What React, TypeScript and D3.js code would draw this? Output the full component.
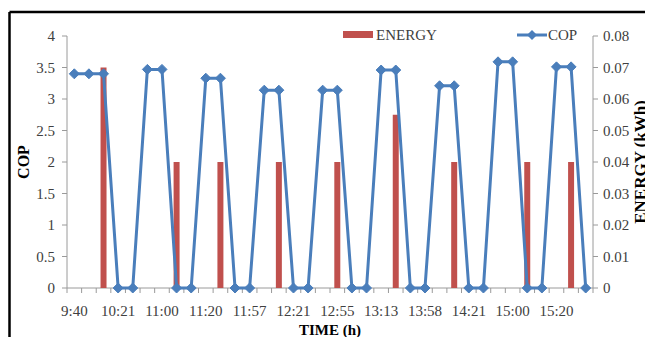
import React from "react";
import * as d3 from "d3";

const tickLabels = ["9:40", "10:21", "11:00", "11:20", "11:57", "12:21", "12:55", "13:13", "13:58", "14:21", "15:00", "15:20"];
const cop = [
  3.4, 3.4, 3.4, 0, 0, 3.47, 3.47, 0, 0, 3.33, 3.33, 0, 0, 3.14, 3.14, 0, 0, 3.14,
  3.14, 0, 0, 3.46, 3.46, 0, 0, 3.21, 3.21, 0, 0, 3.59, 3.59, 0, 0, 3.51, 3.51, 0,
];
const energy = [
  0, 0, 0.07, 0, 0, 0, 0, 0.04, 0, 0, 0.04, 0, 0, 0, 0.04, 0, 0, 0,
  0.04, 0, 0, 0, 0.055, 0, 0, 0, 0.04, 0, 0, 0, 0, 0.04, 0, 0, 0.04, 0,
];
const leftTicks = [0, 0.5, 1, 1.5, 2, 2.5, 3, 3.5, 4];
const rightTicks = [0, 0.01, 0.02, 0.03, 0.04, 0.05, 0.06, 0.07, 0.08];

const W = 645;
const H = 337;
const L = 67;
const R = 593;
const T = 36;
const B = 288;
const BLUE = "#4A7EBB";
const RED = "#C0504D";
const FONT = "'Liberation Serif', 'Times New Roman', serif";
const TXT = "#404040";
const AX = "#9A9A9A";

export default function App() {
  const cats = d3.range(cop.length);
  const x = d3.scaleBand<number>().domain(cats).range([L, R]).padding(0);
  const bw = x.bandwidth();
  const cx = (i: number) => (x(i) as number) + bw / 2;
  const yL = d3.scaleLinear().domain([0, 4]).range([B, T]);
  const yR = d3.scaleLinear().domain([0, 0.08]).range([B, T]);
  const barW = bw * 0.41;

  const line = d3
    .line<number>()
    .x((_, i) => cx(i))
    .y((d) => yL(d));

  const diamond = (px: number, py: number, r: number) =>
    `M${px},${py - r}L${px + r},${py}L${px},${py + r}L${px - r},${py}Z`;

  return (
    <svg
      width={W}
      height={H}
      style={{ position: "fixed", left: 0, top: 0, background: "#fff" }}
      fontFamily={FONT}
    >
      <rect x={0} y={0} width={W} height={H} fill="#fff" />
      {/* frame */}
      <line x1={9.5} x2={W} y1={12} y2={12} stroke="#000" strokeWidth={2.5} />
      <line x1={9.5} x2={9.5} y1={12} y2={H} stroke="#000" strokeWidth={2.5} />

      {/* axes */}
      <line x1={L} x2={L} y1={T} y2={B} stroke={AX} strokeWidth={1} />
      <line x1={R} x2={R} y1={T} y2={B} stroke={AX} strokeWidth={1} />
      <line x1={L} x2={R} y1={B} y2={B} stroke={AX} strokeWidth={1} />
      {leftTicks.map((t) => (
        <g key={"l" + t}>
          <line x1={L - 5} x2={L} y1={yL(t)} y2={yL(t)} stroke={AX} />
          <text x={55} y={yL(t) + 5} textAnchor="end" fontSize={15} fill={TXT}>
            {d3.format("~g")(t)}
          </text>
        </g>
      ))}
      {rightTicks.map((t) => (
        <g key={"r" + t}>
          <line x1={R} x2={R + 5} y1={yR(t)} y2={yR(t)} stroke={AX} />
          <text x={603} y={yR(t) + 5} textAnchor="start" fontSize={15} fill={TXT}>
            {d3.format("~g")(t)}
          </text>
        </g>
      ))}
      {d3.range(cats.length + 1).map((i) => {
        const px = L + i * bw;
        return <line key={"xt" + i} x1={px} x2={px} y1={B} y2={B + 5} stroke={AX} />;
      })}
      {tickLabels.map((lab, k) => (
        <text key={"xl" + k} x={cx(k * 3)} y={316} textAnchor="middle" fontSize={15} fill={TXT}>
          {lab}
        </text>
      ))}

      {/* bars */}
      {energy.map((v, i) =>
        v > 0 ? (
          <rect key={"b" + i} x={cx(i) - barW / 2} y={yR(v)} width={barW} height={B - yR(v)} fill={RED} />
        ) : null
      )}

      {/* COP line */}
      <path d={line(cop) || ""} fill="none" stroke={BLUE} strokeWidth={3} strokeLinejoin="round" />
      {cop.map((v, i) => (
        <path key={"m" + i} d={diamond(cx(i), yL(v), 5)} fill={BLUE} stroke={BLUE} strokeWidth={1} />
      ))}

      {/* legend */}
      <rect x={343} y={31} width={30} height={7} fill={RED} />
      <text x={376} y={40} fontSize={15} fill={TXT}>ENERGY</text>
      <line x1={517} x2={547} y1={35} y2={35} stroke={BLUE} strokeWidth={3} />
      <path d={diamond(532, 35, 5)} fill={BLUE} />
      <text x={548} y={40} fontSize={15} fill={TXT}>COP</text>

      {/* axis titles */}
      <text transform={`translate(29,${(T + B) / 2}) rotate(-90)`} textAnchor="middle" fontSize={16} fontWeight="bold" fill="#000">
        COP
      </text>
      <text transform={`translate(646,${(T + B) / 2}) rotate(-90)`} textAnchor="middle" fontSize={17} fontWeight="bold" fill="#000">
        ENERGY (kWh)
      </text>
      <text x={(L + R) / 2} y={335} textAnchor="middle" fontSize={15} fontWeight="bold" fill="#000">
        TIME (h)
      </text>
    </svg>
  );
}
